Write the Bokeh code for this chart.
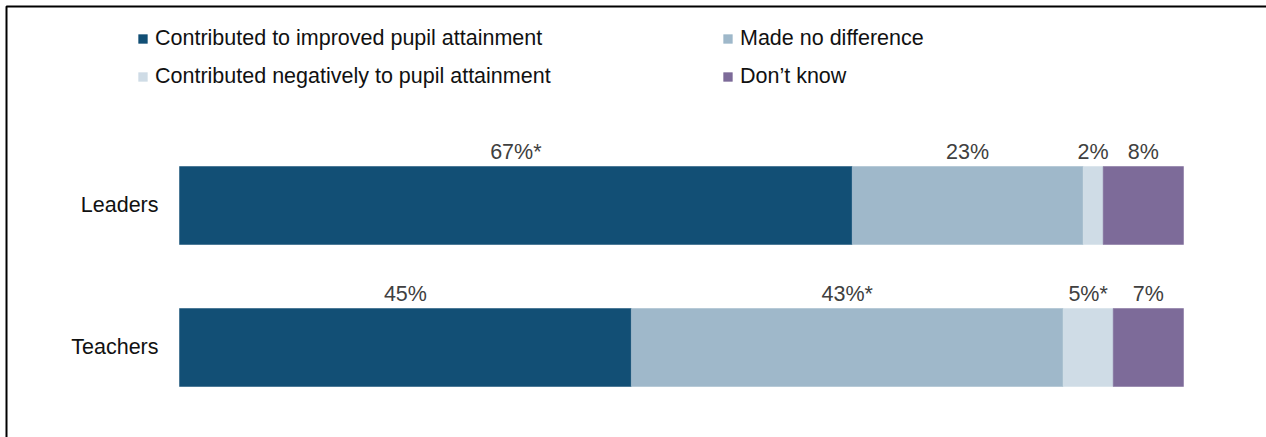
import numpy as np
from bokeh.plotting import figure
from bokeh.models import ColumnDataSource, Range1d, Legend, LegendItem
from bokeh.core.properties import value
from bokeh.embed import file_html
from bokeh.resources import INLINE

groups = ["Leaders", "Teachers"]
series = ["Contributed to improved pupil attainment", "Made no difference",
          "Contributed negatively to pupil attainment", "Don\u2019t know"]
improved = [67, 45]
no_diff = [23, 43]
negative = [2, 5]
dont_know = [8, 7]
labels = [["67%*", "45%"], ["23%", "43%*"], ["2%", "5%*"], ["8%", "7%"]]
colors = ["#124f75", "#9fb8ca", "#cfdce6", "#7d6b99"]

W, H = 1266, 437
FONT = "Liberation Sans"
FS = "21.5px"

p = figure(width=W, height=H, output_backend="svg", toolbar_location=None,
           min_border=0, min_border_left=0, min_border_right=0,
           min_border_top=0, min_border_bottom=0)
# scale: 100% = 1004 px, bars start at 179 px
pxu = 10.04
p.x_range = Range1d(-179 / pxu, (W - 179) / pxu)
ypx = 142.0
ystart = -90 / ypx
p.y_range = Range1d(ystart, ystart + H / ypx)
p.xaxis.visible = False
p.yaxis.visible = False
p.grid.visible = False
p.outline_line_color = None
p.background_fill_color = "white"
p.border_fill_color = "white"

ypos = [1.0, 0.0]  # Leaders on top
bar_h = 78 / ypx
vals = [improved, no_diff, negative, dont_know]
left = np.zeros(2)
renderers = []
lab_x, lab_y, lab_t = [], [], []
for s, v, c, lb in zip(series, vals, colors, labels):
    v = np.array(v, dtype=float)
    src = ColumnDataSource(dict(y=ypos, left=left.copy(), right=left + v))
    r = p.hbar(y="y", left="left", right="right", height=bar_h, source=src,
               fill_color=c, line_color=c, line_width=0.5)
    renderers.append(r)
    for i in range(2):
        lab_x.append(left[i] + v[i] / 2)
        lab_y.append(ypos[i] + bar_h / 2)
        lab_t.append(lb[i])
    left = left + v

p.text(x=lab_x, y=lab_y, text=lab_t, text_align="center", text_baseline="middle",
       y_offset=-15, text_font=value(FONT), text_font_size=FS, text_color="#404040")

p.text(x=[0, 0], y=ypos, text=groups, text_align="right", text_baseline="middle",
       x_offset=-21, y_offset=-1, text_font=value(FONT), text_font_size=FS,
       text_color="#111111")

# frame lines (left and top), partially outside the visible window
x0 = p.x_range.start + 6 / pxu
y1 = p.y_range.end - 6 / ypx
p.line(x=[x0, x0, p.x_range.end + 1], y=[p.y_range.start - 1, y1, y1],
       line_color="black", line_width=2)

def make_legend(items, loc):
    lg = Legend(items=items, location=loc, orientation="vertical",
                glyph_width=11, glyph_height=11, label_standoff=7,
                label_text_font=FONT, label_text_font_size=FS,
                label_text_color="#111111", label_height=24, spacing=13,
                padding=0, margin=0, border_line_color=None,
                background_fill_alpha=0)
    p.add_layout(lg, "center")

make_legend([LegendItem(label=series[0], renderers=[renderers[0]]),
             LegendItem(label=series[2], renderers=[renderers[2]])], (137, 348))
make_legend([LegendItem(label=series[1], renderers=[renderers[1]]),
             LegendItem(label=series[3], renderers=[renderers[3]])], (722, 348))

open("out.html", "w").write(file_html(p, INLINE))
